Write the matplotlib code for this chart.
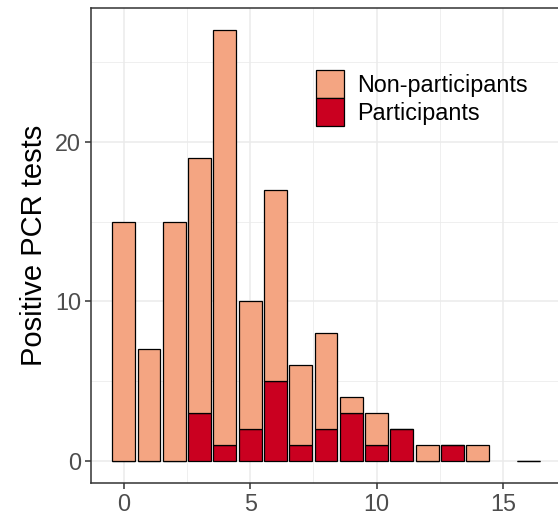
import matplotlib.pyplot as plt
import numpy as np
from matplotlib.patches import Patch

plt.rcParams['font.family'] = ['Liberation Sans', 'DejaVu Sans']

# data: number of contacts vs positive PCR tests
contactos = [0, 1, 2, 3, 4, 5, 6, 7, 8, 9, 10, 11, 12, 13, 14, 16]
participantes = [0, 0, 0, 3, 1, 2, 5, 1, 2, 3, 1, 2, 0, 1, 0, 0]
no_participantes = [15, 7, 15, 16, 26, 8, 12, 5, 6, 1, 2, 0, 1, 0, 1, 0]

color_no = '#F4A582'
color_si = '#CA0020'

fig = plt.figure(figsize=(5.58, 5.22), dpi=100)
ax = fig.add_axes([91 / 558, 39 / 522, 470 / 558, 475 / 522])

part = np.array(participantes)
nopart = np.array(no_participantes)
ax.bar(contactos, part, width=0.9, color=color_si, edgecolor='black', linewidth=0.9, zorder=3)
ax.bar(contactos, nopart, bottom=part, width=0.9, color=color_no,
       edgecolor='black', linewidth=0.9, zorder=3)

ax.set_xlim(-1.295, 17.295)
ax.set_ylim(-1.35, 28.35)
ax.set_xticks([0, 5, 10, 15])
ax.set_yticks([0, 10, 20])
ax.set_xticks([2.5, 7.5, 12.5], minor=True)
ax.set_yticks([5, 15, 25], minor=True)
ax.grid(True, which='major', color='#EBEBEB', linewidth=1.1, zorder=0)
ax.grid(True, which='minor', color='#EBEBEB', linewidth=0.55, zorder=0)
ax.tick_params(which='minor', length=0)
ax.tick_params(which='major', length=4, width=1.1, color='#333333',
               labelsize=16.8, labelcolor='#4D4D4D', pad=3)
for s in ax.spines.values():
    s.set_color('#333333')
    s.set_linewidth(1.1)

ax.set_ylabel('Positive PCR tests', fontsize=21, labelpad=5)

handles = [Patch(facecolor=color_no, edgecolor='black', linewidth=0.9),
           Patch(facecolor=color_si, edgecolor='black', linewidth=0.9)]
ax.legend(handles, ['Non-participants', 'Participants'], loc='upper left',
          bbox_to_anchor=(0.453, 0.893), frameon=False, fontsize=16.8, borderpad=0,
          handlelength=1.2, handleheight=1.45, handletextpad=0.6, labelspacing=0.0)

fig.savefig('out.png', dpi=100)
